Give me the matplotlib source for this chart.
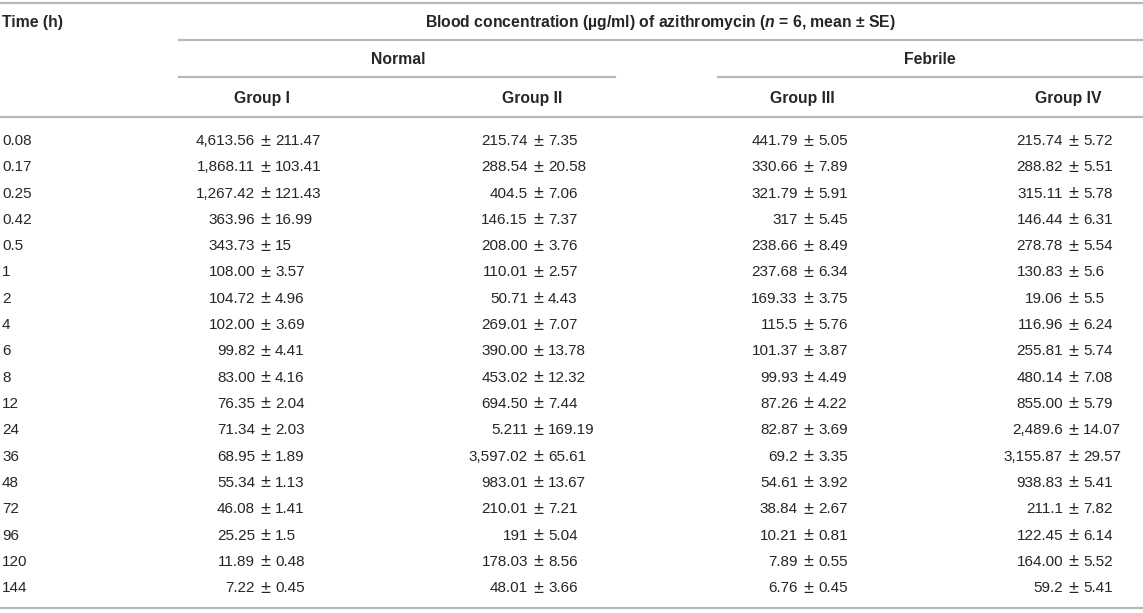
import matplotlib.pyplot as plt

plt.rcParams['font.family'] = ['Liberation Sans', 'DejaVu Sans']
plt.rcParams['mathtext.fontset'] = 'custom'
plt.rcParams['mathtext.it'] = 'Liberation Sans:italic:bold'
plt.rcParams['mathtext.rm'] = 'Liberation Sans:bold'

# table contents
times = ['0.08', '0.17', '0.25', '0.42', '0.5', '1', '2', '4', '6', '8',
         '12', '24', '36', '48', '72', '96', '120', '144']
groups = ['Group I', 'Group II', 'Group III', 'Group IV']
conditions = ['Normal', 'Febrile']

group1_mean = ['4,613.56', '1,868.11', '1,267.42', '363.96', '343.73', '108.00',
               '104.72', '102.00', '99.82', '83.00', '76.35', '71.34', '68.95',
               '55.34', '46.08', '25.25', '11.89', '7.22']
group1_se = ['211.47', '103.41', '121.43', '16.99', '15', '3.57', '4.96', '3.69',
             '4.41', '4.16', '2.04', '2.03', '1.89', '1.13', '1.41', '1.5', '0.48', '0.45']
group2_mean = ['215.74', '288.54', '404.5', '146.15', '208.00', '110.01', '50.71',
               '269.01', '390.00', '453.02', '694.50', '5.211', '3,597.02', '983.01',
               '210.01', '191', '178.03', '48.01']
group2_se = ['7.35', '20.58', '7.06', '7.37', '3.76', '2.57', '4.43', '7.07', '13.78',
             '12.32', '7.44', '169.19', '65.61', '13.67', '7.21', '5.04', '8.56', '3.66']
group3_mean = ['441.79', '330.66', '321.79', '317', '238.66', '237.68', '169.33',
               '115.5', '101.37', '99.93', '87.26', '82.87', '69.2', '54.61', '38.84',
               '10.21', '7.89', '6.76']
group3_se = ['5.05', '7.89', '5.91', '5.45', '8.49', '6.34', '3.75', '5.76', '3.87',
             '4.49', '4.22', '3.69', '3.35', '3.92', '2.67', '0.81', '0.55', '0.45']
group4_mean = ['215.74', '288.82', '315.11', '146.44', '278.78', '130.83', '19.06',
               '116.96', '255.81', '480.14', '855.00', '2,489.6', '3,155.87', '938.83',
               '211.1', '122.45', '164.00', '59.2']
group4_se = ['5.72', '5.51', '5.78', '6.31', '5.54', '5.6', '5.5', '6.24', '5.74',
             '7.08', '5.79', '14.07', '29.57', '5.41', '7.82', '6.14', '5.52', '5.41']

means = [group1_mean, group2_mean, group3_mean, group4_mean]
ses = [group1_se, group2_se, group3_se, group4_se]

W, H = 1143, 613
fig = plt.figure(figsize=(W / 100, H / 100), dpi=100)
ax = fig.add_axes([0, 0, 1, 1])
ax.set_xlim(0, W)
ax.set_ylim(H, 0)
ax.axis('off')

txt = '#262626'
rule = '#b8b8b8'
fs = 11
hfs = 11.3

pm_x = [265, 538, 808, 1073]
head_x = [262, 532, 802, 1068]

# rules
ax.plot([0, W], [3, 3], color=rule, lw=1.6)
ax.plot([179, W], [40, 40], color=rule, lw=1.6)
ax.plot([179, 615], [77, 77], color=rule, lw=1.6)
ax.plot([718, W], [77, 77], color=rule, lw=1.6)
ax.plot([0, W], [117, 117], color=rule, lw=1.6)
ax.plot([0, W], [608, 608], color=rule, lw=1.6)

# headers
ax.text(2, 22, 'Time (h)', ha='left', va='center', fontsize=hfs, fontweight='bold', color=txt)
ax.text(660, 22, r'Blood concentration (µg/ml) of azithromycin ($n$ = 6, mean ± SE)',
        ha='center', va='center', fontsize=hfs, fontweight='bold', color=txt)
ax.text(398, 60, conditions[0], ha='center', va='center', fontsize=hfs, fontweight='bold', color=txt)
ax.text(930, 60, conditions[1], ha='center', va='center', fontsize=hfs, fontweight='bold', color=txt)
for g, x in zip(groups, head_x):
    ax.text(x, 98, g, ha='center', va='center', fontsize=hfs, fontweight='bold', color=txt)

# body rows, aligned on the ± sign
y0, dy = 141, 26.3
for i, t in enumerate(times):
    y = y0 + i * dy
    ax.text(2, y, t, ha='left', va='center', fontsize=fs, color=txt)
    for j in range(4):
        x = pm_x[j]
        ax.text(x - 10, y, means[j][i], ha='right', va='center', fontsize=fs, color=txt)
        ax.text(x, y, '±', ha='center', va='center', fontsize=13, color=txt)
        ax.text(x + 10, y, ses[j][i], ha='left', va='center', fontsize=fs, color=txt)

fig.savefig('out.png', dpi=100, facecolor='white')
